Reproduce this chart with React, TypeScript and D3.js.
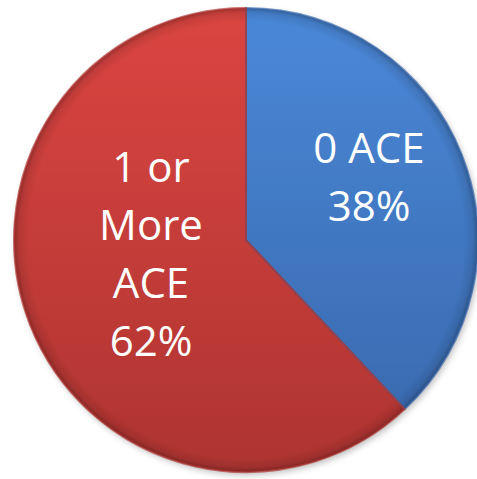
import { useEffect, useRef } from 'react';
import * as d3 from 'd3';

const categories = ['0 ACE', '1 or More ACE'];
const values = [38, 62];
const labelLines = [['0 ACE', '38%'], ['1 or', 'More', 'ACE', '62%']];
const topColors = ['#4a88d8', '#db4541'];
const bottomColors = ['#3867ab', '#ae3431'];

export default function App() {
  const svgRef = useRef<SVGSVGElement>(null);
  const width = 477;
  const height = 479;

  useEffect(() => {
    if (!svgRef.current) return;
    const svg = d3.select(svgRef.current);
    svg.selectAll('*').remove();

    const cx = 246;
    const cy = 240;
    const radius = 232;

    const defs = svg.append('defs');
    // gradients are in the pie group's coordinates (origin at the centre)
    categories.forEach((_, i) => {
      const lg = defs
        .append('linearGradient')
        .attr('id', `fill-${i}`)
        .attr('gradientUnits', 'userSpaceOnUse')
        .attr('x1', 0)
        .attr('y1', -radius)
        .attr('x2', 0)
        .attr('y2', radius);
      lg.append('stop').attr('offset', '0%').attr('stop-color', topColors[i]);
      lg.append('stop').attr('offset', '100%').attr('stop-color', bottomColors[i]);
    });

    // rim darkening for the bevel look
    const rim = defs
      .append('radialGradient')
      .attr('id', 'rim')
      .attr('gradientUnits', 'userSpaceOnUse')
      .attr('cx', 0)
      .attr('cy', 0)
      .attr('r', radius);
    rim.append('stop').attr('offset', '0%').attr('stop-color', '#000').attr('stop-opacity', 0);
    rim.append('stop').attr('offset', '94%').attr('stop-color', '#000').attr('stop-opacity', 0);
    rim.append('stop').attr('offset', '98%').attr('stop-color', '#000').attr('stop-opacity', 0.1);
    rim.append('stop').attr('offset', '100%').attr('stop-color', '#000').attr('stop-opacity', 0.28);

    const shadow = defs
      .append('filter')
      .attr('id', 'shadow')
      .attr('x', '-10%')
      .attr('y', '-10%')
      .attr('width', '120%')
      .attr('height', '120%');
    shadow
      .append('feDropShadow')
      .attr('dx', 2)
      .attr('dy', 3)
      .attr('stdDeviation', 3)
      .attr('flood-color', '#000')
      .attr('flood-opacity', 0.25);

    const pie = d3.pie<number>().sort(null).value(d => d);
    const arcs = pie(values);
    const arc = d3.arc<d3.PieArcDatum<number>>().innerRadius(0).outerRadius(radius);

    const g = svg.append('g').attr('transform', `translate(${cx},${cy})`);

    g.append('g')
      .attr('filter', 'url(#shadow)')
      .selectAll('path')
      .data(arcs)
      .enter()
      .append('path')
      .attr('d', arc)
      .attr('fill', (_, i) => `url(#fill-${i})`);

    g.selectAll('.rim')
      .data(arcs)
      .enter()
      .append('path')
      .attr('class', 'rim')
      .attr('d', arc)
      .attr('fill', 'url(#rim)');

    // slice edge seams
    g.selectAll('.seam')
      .data(arcs)
      .enter()
      .append('path')
      .attr('class', 'seam')
      .attr('d', arc)
      .attr('fill', 'none')
      .attr('stroke', (_, i) => bottomColors[i])
      .attr('stroke-opacity', 0.7)
      .attr('stroke-width', 2)
      .attr('stroke-linejoin', 'round');

    // first-line baseline position of each label, relative to the centre
    const labelPos = [
      [123, -77],
      [-95, -58],
    ];
    const lineH = 58;
    arcs.forEach((_, i) => {
      const t = g
        .append('text')
        .attr('text-anchor', 'middle')
        .attr('fill', '#ffffff')
        .attr('font-family', '"Open Sans", sans-serif')
        .attr('font-size', '42px');
      labelLines[i].forEach((line, j) => {
        t.append('tspan')
          .attr('x', labelPos[i][0])
          .attr('y', labelPos[i][1] + j * lineH)
          .text(line);
      });
    });
  }, []);

  return (
    <svg
      ref={svgRef}
      width={width}
      height={height}
      style={{ position: 'absolute', left: 0, top: 0, background: '#fff' }}
    ></svg>
  );
}
